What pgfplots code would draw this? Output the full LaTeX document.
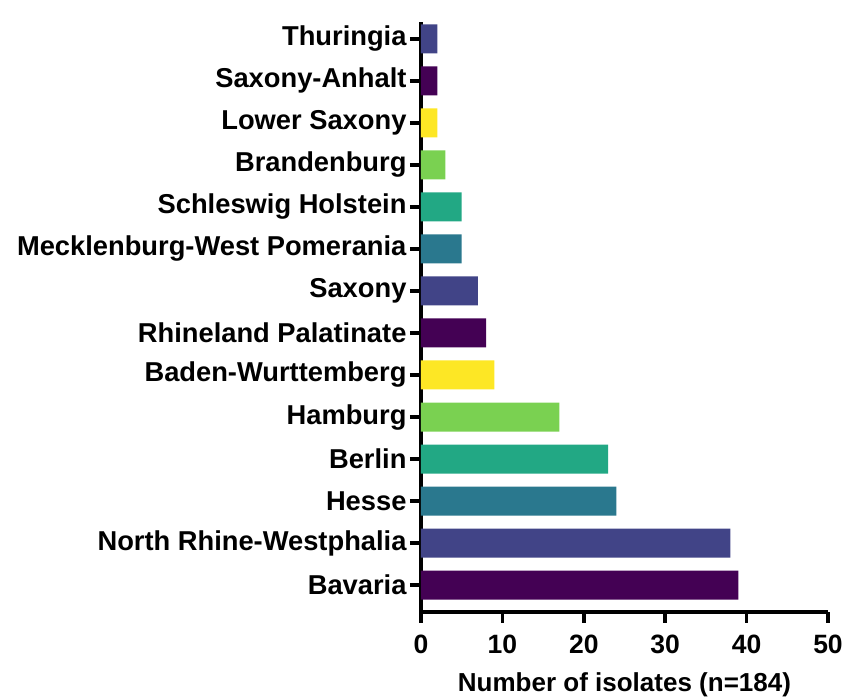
\documentclass[border=0pt]{standalone}
\usepackage{pgfplots}
\pgfplotsset{compat=1.18}
\usepackage{fontspec}
\setmainfont{Liberation Sans}
\definecolor{cA}{HTML}{440154}
\definecolor{cB}{HTML}{414487}
\definecolor{cC}{HTML}{2A788E}
\definecolor{cD}{HTML}{22A884}
\definecolor{cE}{HTML}{7AD151}
\definecolor{cF}{HTML}{FDE725}
\begin{document}
\begin{tikzpicture}
\useasboundingbox (-421pt,-86pt) rectangle (427pt,612pt);
\begin{axis}[
  at={(0,0)}, anchor=south west,
  scale only axis, width=407pt, height=590pt,
  xbar, bar width=29pt,
  xmin=0, xmax=50, ymin=-0.64, ymax=13.4,
  axis x line*=bottom, axis y line*=left,
  axis line style={line width=3.5pt,-},
  tick style={line width=3.5pt,black},
  major tick length=11pt, tick align=outside,
  xtick={0,10,20,30,40,50},
  ytick={0,1,2,3,4,5,6,7,8,9,10,11,12,13},
  yticklabels={Bavaria,North Rhine-Westphalia,Hesse,Berlin,Hamburg,Baden-Wurttemberg,Rhineland Palatinate,Saxony,Mecklenburg-West Pomerania,Schleswig Holstein,Brandenburg,Lower Saxony,Saxony-Anhalt,Thuringia},
  yticklabel style={font=\fontsize{27.3}{30}\selectfont\bfseries},
  xticklabel style={font=\fontsize{26.5}{30}\selectfont\bfseries, yshift=-8pt},
  /pgf/number format/assume math mode=true,
  xlabel={Number of isolates (n=184)},
  xlabel style={font=\fontsize{26}{30}\selectfont\bfseries, yshift=-12pt},
  every axis plot/.append style={draw=none, bar shift=0pt},
]
\addplot[fill=cA] coordinates {(39,0) (8,6) (2,12)};
\addplot[fill=cB] coordinates {(38,1) (7,7) (2,13)};
\addplot[fill=cC] coordinates {(24,2) (5,8)};
\addplot[fill=cD] coordinates {(23,3) (5,9)};
\addplot[fill=cE] coordinates {(17,4) (3,10)};
\addplot[fill=cF] coordinates {(9,5) (2,11)};
\end{axis}
\end{tikzpicture}
\end{document}
